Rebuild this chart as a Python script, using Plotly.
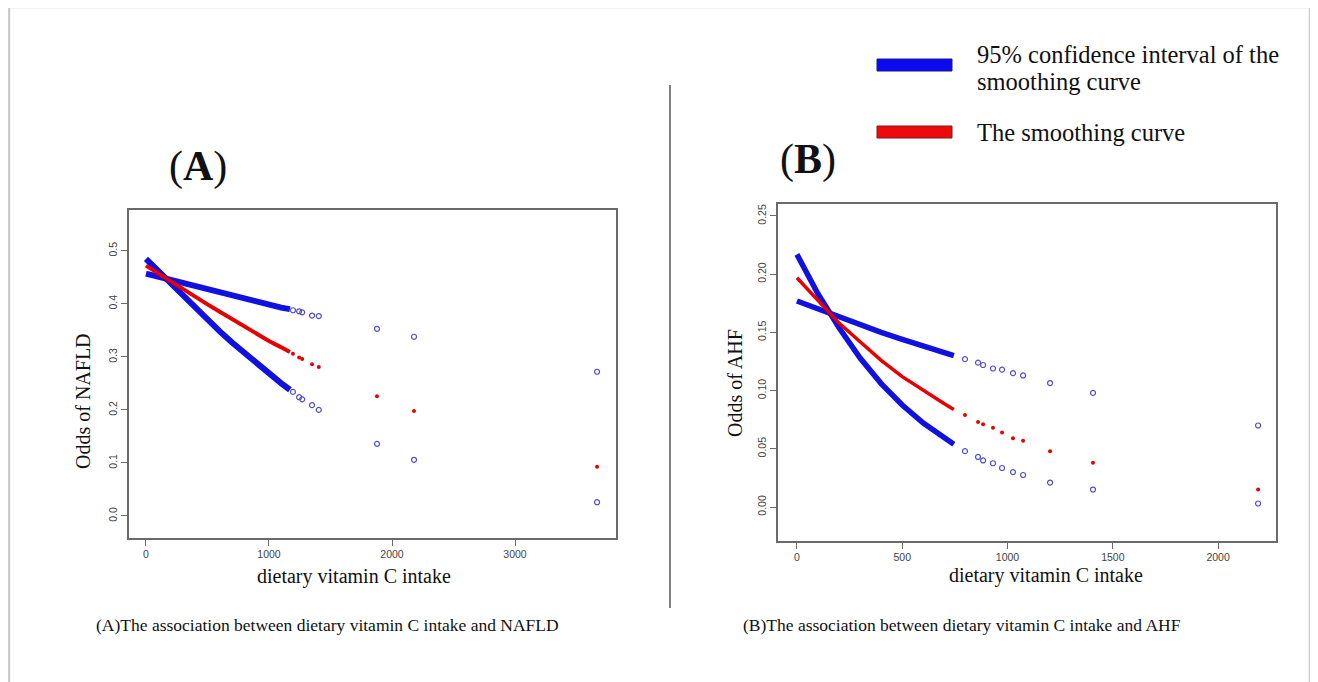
import plotly.graph_objects as go

# page body has an 8px margin, so the figure starts at (8, 8) in the window
OFF = 8
W, H = 1310, 674

# ---------------- Panel A data (NAFLD) ----------------
a_x_dense = [0, 100, 200, 300, 400, 500, 600, 700, 800, 900, 1000, 1100, 1170]
a_fit_dense = [0.472, 0.457, 0.443, 0.428, 0.413, 0.399, 0.385, 0.371, 0.357, 0.344, 0.330, 0.318, 0.309]
a_upper_dense = [0.457, 0.451, 0.445, 0.439, 0.434, 0.428, 0.422, 0.416, 0.410, 0.405, 0.399, 0.393, 0.390]
a_lower_dense = [0.485, 0.462, 0.438, 0.415, 0.392, 0.370, 0.348, 0.327, 0.307, 0.287, 0.268, 0.250, 0.238]

a_x_sparse = [1195, 1245, 1270, 1350, 1405, 1878, 2179, 3667]
a_fit_sparse = [0.306, 0.299, 0.296, 0.286, 0.281, 0.226, 0.198, 0.093]
a_upper_sparse = [0.388, 0.386, 0.384, 0.378, 0.377, 0.353, 0.338, 0.272]
a_lower_sparse = [0.234, 0.224, 0.220, 0.209, 0.200, 0.136, 0.106, 0.026]

a_xticks = [0, 1000, 2000, 3000]
a_yticks = [0.0, 0.1, 0.2, 0.3, 0.4, 0.5]

# ---------------- Panel B data (AHF) ----------------
b_x_dense = [0, 100, 200, 300, 400, 500, 600, 700, 745]
b_fit_dense = [0.197, 0.177, 0.158, 0.142, 0.126, 0.112, 0.100, 0.0887, 0.0838]
b_upper_dense = [0.177, 0.170, 0.163, 0.156, 0.150, 0.144, 0.138, 0.132, 0.130]
b_lower_dense = [0.217, 0.183, 0.154, 0.128, 0.106, 0.0876, 0.0721, 0.0591, 0.054]

b_x_sparse = [798, 860, 884, 931, 974, 1026, 1074, 1202, 1406, 2190]
b_fit_sparse = [0.079, 0.073, 0.071, 0.068, 0.064, 0.059, 0.057, 0.048, 0.038, 0.015]
b_upper_sparse = [0.127, 0.124, 0.122, 0.119, 0.118, 0.115, 0.113, 0.1065, 0.098, 0.070]
b_lower_sparse = [0.048, 0.043, 0.040, 0.0376, 0.0335, 0.030, 0.0275, 0.021, 0.015, 0.003]

b_xticks = [0, 500, 1000, 1500, 2000]
b_yticks = [0.00, 0.05, 0.10, 0.15, 0.20, 0.25]

legend_labels = ["95% confidence interval of the", "smoothing curve", "The smoothing curve"]
captions = ["(A)The association between dietary vitamin C intake and NAFLD",
            "(B)The association between dietary vitamin C intake and AHF"]

BLUE = "#1010e0"
BLUE_PT = "#5050c8"
RED = "#e60000"
SERIF = "Liberation Serif, Times New Roman, serif"
SANS = "Liberation Sans, Arial, sans-serif"


def px(x):
    return (x - OFF) / W


def py(y):
    return 1 - (y - OFF) / H


fig = go.Figure()


def add_panel(xa, ya, xd, fd, ud, ld, xs, fs, us, ls, bw, rw):
    for yy in (ud, ld):
        fig.add_trace(go.Scatter(x=xd, y=yy, mode="lines", xaxis=xa, yaxis=ya,
                                 line=dict(color=BLUE, width=bw), showlegend=False, hoverinfo="skip"))
    fig.add_trace(go.Scatter(x=xd, y=fd, mode="lines", xaxis=xa, yaxis=ya,
                             line=dict(color=RED, width=rw), showlegend=False, hoverinfo="skip"))
    for yy in (us, ls):
        fig.add_trace(go.Scatter(x=xs, y=yy, mode="markers", xaxis=xa, yaxis=ya,
                                 marker=dict(symbol="circle-open", size=5, color=BLUE_PT, line=dict(width=1.2)),
                                 showlegend=False, hoverinfo="skip"))
    fig.add_trace(go.Scatter(x=xs, y=fs, mode="markers", xaxis=xa, yaxis=ya,
                             marker=dict(symbol="circle", size=4, color=RED),
                             showlegend=False, hoverinfo="skip"))


add_panel("x", "y", a_x_dense, a_fit_dense, a_upper_dense, a_lower_dense,
          a_x_sparse, a_fit_sparse, a_upper_sparse, a_lower_sparse, 6, 4)
add_panel("x2", "y2", b_x_dense, b_fit_dense, b_upper_dense, b_lower_dense,
          b_x_sparse, b_fit_sparse, b_upper_sparse, b_lower_sparse, 5.5, 3.5)

axis_common = dict(showgrid=False, zeroline=False, showline=True, mirror=True,
                   linecolor="#6a6a6a", linewidth=1.5, ticks="outside", ticklen=6,
                   tickcolor="#6a6a6a", tickwidth=1.2,
                   tickfont=dict(family=SANS, size=10.5, color="#444444"))

fig.update_layout(
    width=W, height=H, margin=dict(l=0, r=0, t=0, b=0),
    paper_bgcolor="white", plot_bgcolor="white",
    xaxis=dict(domain=[px(129), px(616)], range=[-138, 3821], tickvals=a_xticks,
               anchor="y", **axis_common),
    yaxis=dict(domain=[py(538), py(210)], range=[-0.0415, 0.577], tickvals=a_yticks,
               tickformat=".1f", tickangle=-90, anchor="x", **axis_common),
    xaxis2=dict(domain=[px(778), px(1276)], range=[-90, 2275], tickvals=b_xticks,
                anchor="y2", **axis_common),
    yaxis2=dict(domain=[py(541), py(204)], range=[-0.0292, 0.2603], tickvals=b_yticks,
                tickformat=".2f", tickangle=-90, anchor="x2", **axis_common),
)

ann = []


def text(x, y, s, size, angle=0, family=SERIF, xanchor="center", color="#111111"):
    ann.append(dict(x=px(x), y=py(y), xref="paper", yref="paper", text=s, showarrow=False,
                    font=dict(family=family, size=size, color=color), textangle=angle,
                    xanchor=xanchor, yanchor="middle"))


# axis titles
text(354, 576, "dietary vitamin C intake", 20)
text(1046, 575, "dietary vitamin C intake", 20)
text(83, 401, "Odds of NAFLD", 20, angle=-90)
text(735, 383, "Odds of AHF", 20, angle=-90)
# panel labels
text(198, 166, "(<b>A</b>)", 42)
text(808, 159, "(<b>B</b>)", 42)
# legend texts
text(975, 54, legend_labels[0], 24.5, xanchor="left")
text(975, 81, legend_labels[1], 24.5, xanchor="left")
text(975, 132, legend_labels[2], 24.5, xanchor="left")
# captions
text(327, 625, captions[0], 17.5)
text(962, 625, captions[1], 17.5)

shapes = [
    # outer frame
    dict(type="rect", xref="paper", yref="paper", x0=px(9), x1=px(1310), y0=-0.02, y1=py(7),
         line=dict(color="#cccccc", width=2.5), fillcolor="rgba(0,0,0,0)"),
    # divider
    dict(type="line", xref="paper", yref="paper", x0=px(670), x1=px(670), y0=py(608), y1=py(85),
         line=dict(color="#555555", width=1.5)),
    # legend swatches
    dict(type="rect", xref="paper", yref="paper", x0=px(877), x1=px(952), y0=py(71), y1=py(59),
         line=dict(color="#1a1a80", width=1), fillcolor="#0a0af0"),
    dict(type="rect", xref="paper", yref="paper", x0=px(877), x1=px(952), y0=py(138), y1=py(126),
         line=dict(color="#801a1a", width=1), fillcolor="#ee0a0a"),
]

fig.update_layout(annotations=ann, shapes=shapes)
fig.write_html("out.html")
